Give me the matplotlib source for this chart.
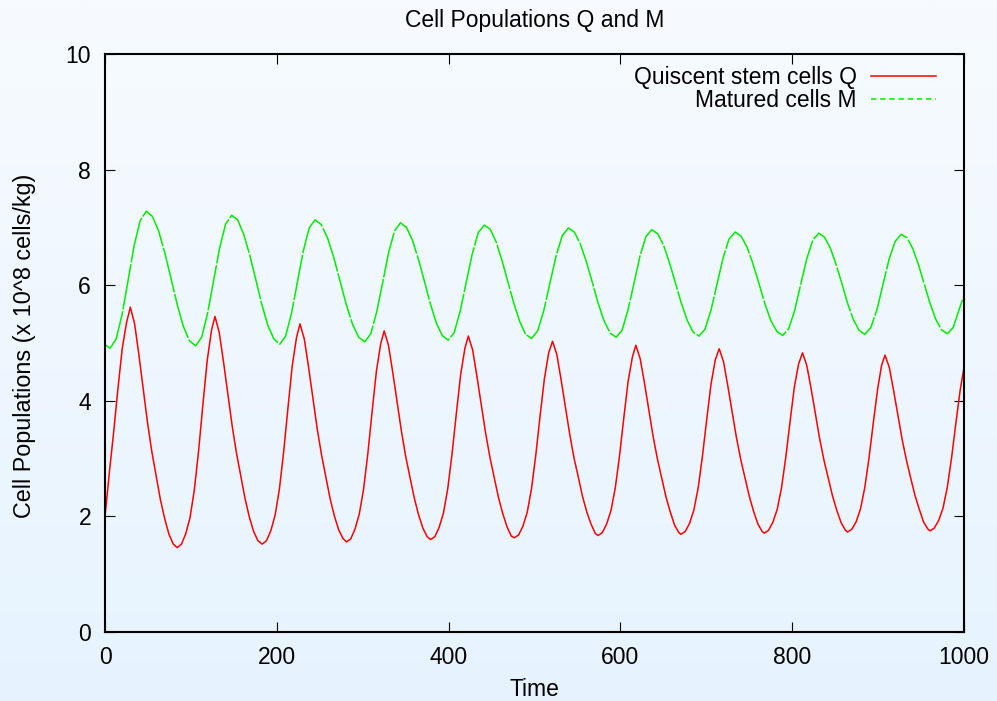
import numpy as np
import matplotlib.pyplot as plt
from matplotlib.lines import Line2D
from matplotlib.colors import LinearSegmentedColormap

plt.rcParams['font.family'] = ['Liberation Sans', 'DejaVu Sans']

# -----------------------------
# Data
# -----------------------------
# Quiescent stem cells Q
t_q = [0, 5, 10, 15, 20, 25, 29.5,
       34.5, 39.5, 44.5, 49.5, 54.5, 59.5, 64.5, 69.5, 74.5, 79.5, 84,
       89, 94, 99, 104, 109, 114, 119, 124, 128,
       133, 138, 143, 148, 153, 158, 163, 168, 173, 178, 183,
       188, 193, 198, 203, 208, 213, 218, 223, 227,
       232, 237, 242, 247, 252, 257, 262, 267, 272, 277, 281,
       286, 291, 296, 301, 306, 311, 316, 321, 325,
       330, 335, 340, 345, 350, 355, 360, 365, 370, 375, 379,
       384, 389, 394, 399, 404, 409, 414, 419, 423,
       428, 433, 438, 443, 448, 453, 458, 463, 468, 473, 476.5,
       481.5, 486.5, 491.5, 496.5, 501.5, 506.5, 511.5, 516.5, 521,
       526, 531, 536, 541, 546, 551, 556, 561, 566, 571, 574,
       579, 584, 589, 594, 599, 604, 609, 614, 618,
       623, 628, 633, 638, 643, 648, 653, 658, 663, 668, 670.5,
       675.5, 680.5, 685.5, 690.5, 695.5, 700.5, 705.5, 710.5, 715,
       720, 725, 730, 735, 740, 745, 750, 755, 760, 765, 767.5,
       772.5, 777.5, 782.5, 787.5, 792.5, 797.5, 802.5, 807.5, 812,
       817, 822, 827, 832, 837, 842, 847, 852, 857, 862, 864.5,
       869.5, 874.5, 879.5, 884.5, 889.5, 894.5, 899.5, 904, 908,
       913, 918, 923, 928, 933, 938, 943, 948, 953, 958, 960.5,
       965.5, 970.5, 975.5, 980.5, 985.5, 990.5, 995.5, 1000]
q_vals = [2.00, 2.75, 3.45, 4.20, 4.90, 5.35, 5.62,
          5.33, 4.79, 4.21, 3.62, 3.12, 2.71, 2.29, 1.96, 1.69, 1.52, 1.46,
          1.52, 1.70, 1.98, 2.46, 3.14, 3.94, 4.70, 5.22, 5.46,
          5.18, 4.67, 4.12, 3.57, 3.10, 2.70, 2.31, 1.99, 1.74, 1.58, 1.52,
          1.58, 1.75, 2.02, 2.47, 3.12, 3.88, 4.61, 5.10, 5.33,
          5.07, 4.58, 4.05, 3.52, 3.07, 2.69, 2.31, 2.01, 1.77, 1.62, 1.56,
          1.61, 1.78, 2.04, 2.47, 3.09, 3.82, 4.52, 4.99, 5.21,
          4.96, 4.49, 3.98, 3.48, 3.04, 2.68, 2.32, 2.03, 1.80, 1.65, 1.60,
          1.65, 1.81, 2.06, 2.48, 3.08, 3.78, 4.45, 4.91, 5.12,
          4.88, 4.42, 3.93, 3.45, 3.03, 2.68, 2.33, 2.05, 1.82, 1.66, 1.63,
          1.68, 1.83, 2.07, 2.48, 3.06, 3.74, 4.38, 4.83, 5.03,
          4.80, 4.36, 3.89, 3.42, 3.01, 2.68, 2.34, 2.07, 1.86, 1.70, 1.67,
          1.72, 1.87, 2.10, 2.49, 3.05, 3.71, 4.34, 4.76, 4.96,
          4.73, 4.31, 3.85, 3.39, 3.00, 2.67, 2.34, 2.08, 1.85, 1.72, 1.69,
          1.74, 1.88, 2.11, 2.49, 3.04, 3.68, 4.29, 4.71, 4.90,
          4.68, 4.26, 3.82, 3.37, 2.99, 2.67, 2.35, 2.09, 1.87, 1.74, 1.71,
          1.76, 1.90, 2.12, 2.49, 3.02, 3.64, 4.24, 4.64, 4.83,
          4.61, 4.21, 3.78, 3.34, 2.97, 2.66, 2.35, 2.10, 1.89, 1.76, 1.73,
          1.78, 1.91, 2.13, 2.50, 3.02, 3.63, 4.21, 4.61, 4.79,
          4.58, 4.18, 3.76, 3.33, 2.97, 2.66, 2.36, 2.12, 1.90, 1.78, 1.75,
          1.80, 1.93, 2.14, 2.50, 3.01, 3.61, 4.18, 4.58]

# Matured cells M
t_m = [0, 6, 13, 20, 27, 34, 41, 48,
       55.2, 62.4, 69.6, 76.8, 84.0, 91.1, 98.3, 105.5,
       112.5, 119.5, 126.5, 133.5, 140.5, 147.5,
       154.5, 161.5, 168.5, 175.5, 182.5, 189.5, 196.5, 203.5,
       210.3, 217.2, 224.0, 230.8, 237.7, 244.5,
       251.8, 259.0, 266.3, 273.5, 280.8, 288.0, 295.3, 302.5,
       309.4, 316.3, 323.3, 330.2, 337.1, 344,
       350.9, 357.9, 364.8, 371.8, 378.7, 385.6, 392.6, 399.5,
       406.5, 413.5, 420.5, 427.5, 434.5, 441.5,
       448.4, 455.3, 462.1, 469.0, 475.9, 482.8, 489.6, 496.5,
       503.7, 510.8, 518.0, 525.2, 532.3, 539.5,
       546.4, 553.4, 560.3, 567.3, 574.2, 581.1, 588.1, 595,
       601.9, 608.8, 615.8, 622.7, 629.6, 636.5,
       643.4, 650.3, 657.1, 664.0, 670.9, 677.8, 684.6, 691.5,
       698.5, 705.5, 712.5, 719.5, 726.5, 733.5,
       740.4, 747.4, 754.3, 761.3, 768.2, 775.1, 782.1, 789,
       796, 803, 810, 817, 824, 831,
       837.7, 844.4, 851.1, 857.8, 864.4, 871.1, 877.8, 884.5,
       891.6, 898.7, 905.8, 912.8, 919.9, 927,
       933.7, 940.4, 947.1, 953.8, 960.4, 967.1, 973.8, 980.5,
       987.5, 994.5, 1000]
m_vals = [4.97, 4.91, 5.07, 5.50, 6.10, 6.69, 7.12, 7.28,
          7.19, 6.94, 6.56, 6.12, 5.67, 5.29, 5.04, 4.95,
          5.10, 5.52, 6.08, 6.65, 7.06, 7.21,
          7.13, 6.88, 6.52, 6.10, 5.67, 5.31, 5.07, 4.98,
          5.12, 5.52, 6.06, 6.59, 6.99, 7.13,
          7.05, 6.82, 6.48, 6.08, 5.67, 5.33, 5.10, 5.02,
          5.16, 5.54, 6.05, 6.57, 6.94, 7.08,
          7.00, 6.78, 6.45, 6.07, 5.68, 5.35, 5.13, 5.05,
          5.18, 5.55, 6.05, 6.54, 6.91, 7.04,
          6.97, 6.75, 6.43, 6.06, 5.69, 5.37, 5.15, 5.08,
          5.21, 5.56, 6.04, 6.51, 6.86, 6.99,
          6.92, 6.71, 6.41, 6.05, 5.68, 5.38, 5.17, 5.10,
          5.22, 5.57, 6.03, 6.50, 6.84, 6.96,
          6.89, 6.69, 6.39, 6.04, 5.69, 5.39, 5.19, 5.12,
          5.24, 5.57, 6.02, 6.47, 6.80, 6.92,
          6.85, 6.66, 6.37, 6.03, 5.68, 5.39, 5.20, 5.13,
          5.25, 5.57, 6.02, 6.46, 6.78, 6.90,
          6.83, 6.64, 6.36, 6.03, 5.69, 5.41, 5.22, 5.15,
          5.27, 5.58, 6.02, 6.45, 6.76, 6.88,
          6.82, 6.63, 6.35, 6.02, 5.69, 5.41, 5.23, 5.16,
          5.27, 5.59, 5.82]

x_ticks = [0, 200, 400, 600, 800, 1000]
y_ticks = [0, 2, 4, 6, 8, 10]

FS = 16.5

fig = plt.figure(figsize=(9.97, 7.01), dpi=100)

# light blue vertical gradient background
bg = fig.add_axes([0, 0, 1, 1], zorder=-10)
grad = np.linspace(0, 1, 256).reshape(-1, 1)
cmap = LinearSegmentedColormap.from_list('bg', ['#F7FBFF', '#E6F3FE'])
bg.imshow(grad, aspect='auto', cmap=cmap, extent=[0, 1, 0, 1], origin='upper')
bg.axis('off')

ax = fig.add_axes([105 / 997, 69 / 701, 859 / 997, 578 / 701])
ax.patch.set_alpha(0)

ax.plot(t_q, q_vals, color='#FF0000', lw=1.1, solid_joinstyle='round')
ax.plot(t_m, m_vals, color='#00EE00', lw=1.1, linestyle=(0, (30, 1.2)),
        dash_joinstyle='round')

ax.set_xlim(0, 1000)
ax.set_ylim(0, 10)
ax.set_xticks(x_ticks)
ax.set_yticks(y_ticks)
ax.tick_params(direction='in', length=7.5, width=0.8, top=True, right=True,
               labelsize=FS, pad=10, colors='black')
for s in ax.spines.values():
    s.set_linewidth(1.5)

handles = [Line2D([], [], color='#FF0000', lw=1.1),
           Line2D([], [], color='#00EE00', lw=1.1, linestyle=(0, (3.5, 2.5)))]
ax.legend(handles, ['Quiscent stem cells Q', 'Matured cells M'],
          loc='upper right', bbox_to_anchor=(0.9674, 0.980), frameon=False,
          markerfirst=False, fontsize=FS, handlelength=2.85, handletextpad=0.6,
          labelspacing=0.0, borderpad=0, borderaxespad=0)

fig.text(534.5 / 997, 1 - 27.5 / 701, 'Cell Populations Q and M',
         ha='center', va='baseline', fontsize=FS)
fig.text(534.5 / 997, 1 - 696 / 701, 'Time', ha='center', va='baseline', fontsize=FS)
fig.text(25 / 997, 1 - 345.5 / 701, 'Cell Populations (x 10^8 cells/kg)',
         ha='center', va='center', rotation=90, fontsize=16.8)

plt.savefig('out.png', dpi=100)
